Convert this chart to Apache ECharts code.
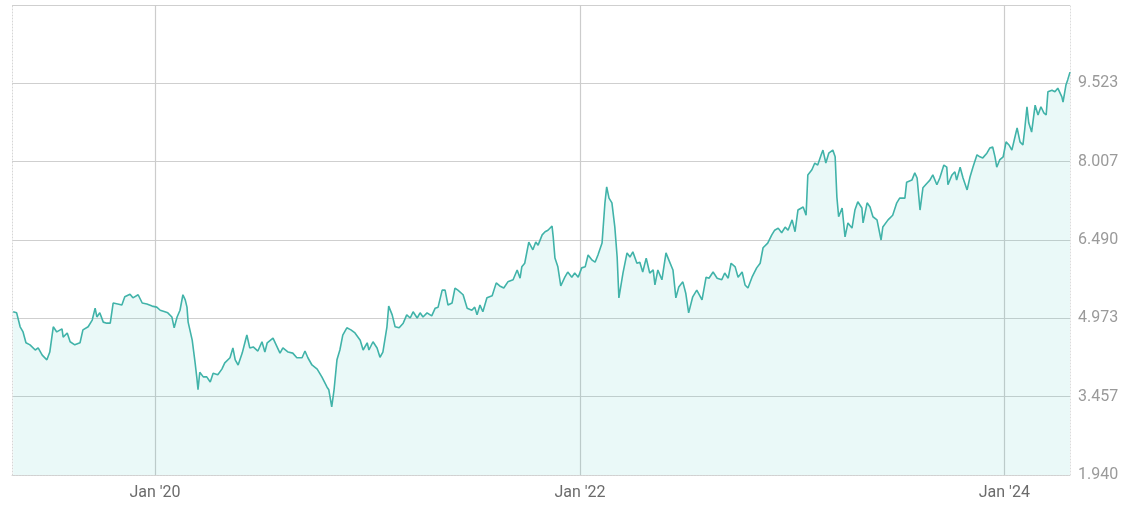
<!DOCTYPE html>
<html>
<head>
<meta charset="utf-8">
<script src="https://cdn.jsdelivr.net/npm/echarts@6/dist/echarts.min.js"></script>
<style>
  html, body { margin: 0; padding: 0; background: #ffffff; }
  #chart { width: 1146px; height: 513px; }
</style>
</head>
<body>
<div id="chart"></div>
<script>
// ---- data ----
const dates = [
'2019-05-02','2019-05-08','2019-05-14','2019-05-19','2019-05-24','2019-05-31','2019-06-09','2019-06-14','2019-06-21','2019-06-29',
'2019-07-04','2019-07-10','2019-07-16','2019-07-25','2019-07-27','2019-08-03','2019-08-08','2019-08-16','2019-08-25','2019-08-30',
'2019-09-08','2019-09-15','2019-09-20','2019-09-23','2019-09-28','2019-10-04','2019-10-10','2019-10-16','2019-10-21','2019-10-29',
'2019-11-05','2019-11-10','2019-11-19','2019-11-24','2019-12-03','2019-12-10','2019-12-18','2019-12-27','2020-01-04','2020-01-10',
'2020-01-18','2020-01-23','2020-01-30','2020-02-03','2020-02-08','2020-02-13','2020-02-18','2020-02-22','2020-02-25','2020-02-27',
'2020-03-05','2020-03-10','2020-03-13','2020-03-15','2020-03-18','2020-03-24','2020-03-30','2020-04-05','2020-04-10','2020-04-18',
'2020-04-25','2020-04-30','2020-05-09','2020-05-14','2020-05-18','2020-05-23','2020-05-30','2020-06-04','2020-06-07','2020-06-12',
'2020-06-18','2020-06-26','2020-07-03','2020-07-08','2020-07-12','2020-07-22','2020-07-29','2020-08-03','2020-08-08','2020-08-17',
'2020-08-25','2020-09-01','2020-09-10','2020-09-15','2020-09-20','2020-09-27','2020-10-06','2020-10-14','2020-10-23','2020-10-26',
'2020-10-31','2020-11-04','2020-11-09','2020-11-14','2020-11-19','2020-11-26','2020-12-03','2020-12-10','2020-12-13','2020-12-19',
'2020-12-24','2020-12-31','2021-01-03','2021-01-10','2021-01-17','2021-01-22','2021-01-27','2021-02-03','2021-02-06','2021-02-12',
'2021-02-17','2021-02-24','2021-03-03','2021-03-09','2021-03-15','2021-03-20','2021-03-27','2021-04-01','2021-04-06','2021-04-13',
'2021-04-21','2021-04-27','2021-05-02','2021-05-09','2021-05-14','2021-05-19','2021-05-26','2021-05-31','2021-06-05','2021-06-14',
'2021-06-21','2021-06-29','2021-07-04','2021-07-08','2021-07-13','2021-07-18','2021-07-25','2021-08-03','2021-08-10','2021-08-16',
'2021-08-23','2021-08-30','2021-09-08','2021-09-15','2021-09-20','2021-09-23','2021-09-28','2021-10-05','2021-10-12','2021-10-17',
'2021-10-21','2021-10-28','2021-11-02','2021-11-07','2021-11-14','2021-11-16','2021-11-19','2021-11-24','2021-11-29','2021-12-06',
'2021-12-11','2021-12-18','2021-12-23','2021-12-29','2022-01-04','2022-01-10','2022-01-15','2022-01-22','2022-01-27','2022-02-01',
'2022-02-08','2022-02-13','2022-02-16','2022-02-20','2022-02-25','2022-03-02','2022-03-06','2022-03-09','2022-03-16','2022-03-23',
'2022-03-28','2022-04-02','2022-04-09','2022-04-14','2022-04-19','2022-04-25','2022-05-01','2022-05-07','2022-05-10','2022-05-15',
'2022-05-22','2022-05-29','2022-06-03','2022-06-10','2022-06-15','2022-06-20','2022-06-27','2022-07-02','2022-07-07','2022-07-14',
'2022-07-21','2022-07-30','2022-08-06','2022-08-11','2022-08-18','2022-08-25','2022-09-02','2022-09-07','2022-09-13','2022-09-18',
'2022-09-25','2022-09-30','2022-10-07','2022-10-12','2022-10-17','2022-10-24','2022-11-01','2022-11-07','2022-11-12','2022-11-20',
'2022-11-27','2022-12-02','2022-12-08','2022-12-14','2022-12-20','2022-12-25','2023-01-01','2023-01-06','2023-01-11','2023-01-20',
'2023-01-25','2023-01-28','2023-02-04','2023-02-09','2023-02-14','2023-02-20','2023-02-23','2023-02-28','2023-03-05','2023-03-12',
'2023-03-16','2023-03-19','2023-03-22','2023-03-28','2023-04-02','2023-04-07','2023-04-14','2023-04-19','2023-04-24','2023-05-01',
'2023-05-03','2023-05-10','2023-05-15','2023-05-20','2023-05-27','2023-06-03','2023-06-06','2023-06-15','2023-06-23','2023-06-30',
'2023-07-05','2023-07-14','2023-07-17','2023-07-26','2023-07-31','2023-08-04','2023-08-09','2023-08-14','2023-08-21','2023-08-26',
'2023-08-31','2023-09-07','2023-09-12','2023-09-19','2023-09-24','2023-09-26','2023-10-03','2023-10-08','2023-10-11','2023-10-17',
'2023-10-22','2023-10-29','2023-11-03','2023-11-08','2023-11-15','2023-11-20','2023-11-25','2023-12-02','2023-12-07','2023-12-12',
'2023-12-16','2023-12-19','2023-12-24','2023-12-30','2024-01-04','2024-01-09','2024-01-14','2024-01-19','2024-01-23','2024-01-28',
'2024-02-02','2024-02-05','2024-02-09','2024-02-12','2024-02-17','2024-02-23','2024-02-28','2024-03-04','2024-03-09','2024-03-13',
'2024-03-16','2024-03-23','2024-03-28','2024-04-02','2024-04-09','2024-04-11','2024-04-16','2024-04-19','2024-04-23'
];
const values = [
5.10,5.08,4.81,4.71,4.50,4.46,4.36,4.40,4.26,4.17,
4.32,4.81,4.71,4.77,4.61,4.69,4.52,4.46,4.50,4.75,
4.81,4.94,5.17,5.00,5.08,4.90,4.88,4.88,5.27,5.25,
5.23,5.39,5.44,5.37,5.43,5.27,5.25,5.21,5.19,5.13,
5.10,5.08,5.00,4.79,5.00,5.13,5.43,5.33,5.19,4.90,
4.55,4.11,3.82,3.59,3.93,3.84,3.84,3.74,3.91,3.88,
3.99,4.11,4.21,4.40,4.17,4.07,4.30,4.52,4.65,4.40,
4.42,4.34,4.52,4.32,4.50,4.59,4.42,4.30,4.40,4.32,
4.30,4.21,4.21,4.34,4.21,4.07,3.99,3.84,3.64,3.59,
3.26,3.59,4.17,4.36,4.65,4.79,4.75,4.69,4.69,4.55,
4.36,4.50,4.36,4.52,4.40,4.22,4.32,4.81,5.21,5.04,
4.81,4.79,4.88,5.04,4.98,5.10,4.98,5.08,5.00,5.08,
5.02,5.17,5.19,5.52,5.52,5.23,5.27,5.56,5.52,5.43,
5.17,5.13,5.19,5.04,5.23,5.10,5.37,5.41,5.66,5.60,
5.56,5.68,5.72,5.91,5.75,5.97,6.04,6.45,6.30,6.45,
6.39,6.59,6.65,6.68,6.76,6.55,6.14,5.97,5.60,5.77,
5.87,5.77,5.85,5.77,5.95,5.97,6.20,6.10,6.06,6.20,
6.43,7.21,7.52,7.30,7.21,6.74,6.16,5.37,5.85,6.24,
6.16,6.26,6.04,6.06,5.87,6.14,5.85,5.91,5.62,5.91,
5.72,6.24,6.10,5.91,5.37,5.58,5.68,5.46,5.08,5.39,
5.52,5.33,5.77,5.75,5.87,5.75,5.72,5.85,5.75,6.04,
5.97,5.77,5.87,5.62,5.56,5.77,5.95,6.04,6.34,6.43,
6.59,6.68,6.72,6.63,6.74,6.68,6.88,6.65,7.07,7.13,
6.97,7.75,7.85,7.98,7.94,8.14,8.23,7.98,8.17,8.23,
8.10,7.32,6.94,7.11,6.55,6.82,6.72,7.07,7.23,7.11,
6.82,7.21,7.13,6.94,6.88,6.49,6.74,6.88,6.97,7.21,
7.30,7.30,7.61,7.65,7.79,7.69,7.07,7.50,7.59,7.65,
7.75,7.56,7.69,7.94,7.90,7.56,7.75,7.81,7.65,7.90,
7.69,7.46,7.71,7.90,8.14,8.10,8.08,8.17,8.27,8.29,
8.10,7.90,8.04,8.10,8.39,8.33,8.23,8.47,8.66,8.39,
8.33,8.62,9.07,8.76,8.58,9.10,8.91,9.07,8.95,8.91,
9.36,9.39,9.36,9.43,9.26,9.16,9.49,9.59,9.74
];
const xRange = ['2019-04-30', '2024-04-23'];
const xTickDates = ['2020-01-01', '2022-01-01', '2024-01-01'];
const xTickLabels = ["Jan '20", "Jan '22", "Jan '24"];
const yMin = 1.940;
const yMax = 11.040;
const yStep = (yMax - yMin) / 6;

// ---- chart ----
const toTime = d => +new Date(d + 'T00:00:00Z');
const chart = echarts.init(document.getElementById('chart'), null, { renderer: 'canvas' });
const seriesData = dates.map((d, i) => [toTime(d), values[i]]);
const tickTimes = xTickDates.map(toTime);

chart.setOption({
  animation: false,
  backgroundColor: '#ffffff',
  grid: { left: 12, right: 76, top: 5, bottom: 38, containLabel: false },
  xAxis: {
    type: 'value',
    min: toTime(xRange[0]),
    max: toTime(xRange[1]),
    axisLine: { show: true, onZero: false, lineStyle: { color: '#d6d6d6', type: [1, 2], width: 1 } },
    axisTick: { show: false, customValues: tickTimes },
    axisLabel: {
      customValues: tickTimes,
      color: '#6b6b6b',
      fontFamily: 'Roboto',
      fontSize: 16,
      margin: 10,
      formatter: function (v) {
        const idx = tickTimes.findIndex(t => Math.abs(t - v) < 86400000);
        return idx >= 0 ? xTickLabels[idx] : '';
      }
    },
    splitLine: { show: true, lineStyle: { color: '#cccccc', width: 1.2 } }
  },
  yAxis: [{
    type: 'value',
    position: 'right',
    min: yMin,
    max: yMax,
    interval: yStep,
    axisLine: { show: true, lineStyle: { color: '#dcdcdc', type: [1, 2] } },
    axisTick: { show: false },
    axisLabel: {
      color: '#9a9a9a',
      fontFamily: 'Roboto',
      fontSize: 16,
      margin: 8,
      formatter: function (v) { return v > yMax - yStep / 2 ? '' : v.toFixed(3); }
    },
    splitLine: { show: true, lineStyle: { color: '#cfcfcf', width: 1.2 } }
  }, {
    type: 'value',
    position: 'left',
    min: yMin,
    max: yMax,
    interval: yStep,
    axisLine: { show: true, onZero: false, lineStyle: { color: '#d6d6d6', type: [1, 2] } },
    axisTick: { show: false },
    axisLabel: { show: false },
    splitLine: { show: false }
  }],
  series: [{
    type: 'line',
    yAxisIndex: 0,
    data: seriesData,
    showSymbol: false,
    symbol: 'none',
    lineStyle: { color: '#41b3a9', width: 1.6 },
    areaStyle: { color: 'rgba(61,200,190,0.15)', origin: 'start' }
  }]
});
</script>
</body>
</html>
